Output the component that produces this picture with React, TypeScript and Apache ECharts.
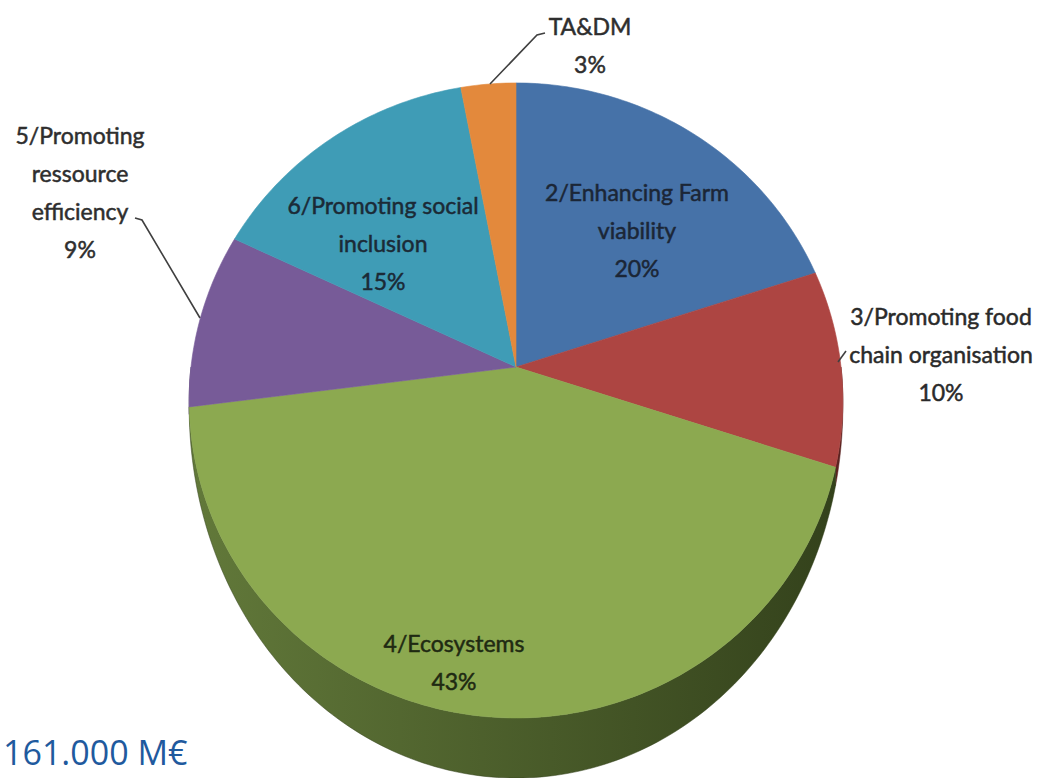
import React, { useEffect, useRef } from "react";
import * as echarts from "echarts";

// ---- data ----
const categories = [
  "2/Enhancing Farm viability",
  "3/Promoting food chain organisation",
  "4/Ecosystems",
  "5/Promoting ressource efficiency",
  "6/Promoting social inclusion",
  "TA&DM",
];
const labelLines = [
  ["2/Enhancing Farm", "viability"],
  ["3/Promoting food", "chain organisation"],
  ["4/Ecosystems"],
  ["5/Promoting", "ressource", "efficiency"],
  ["6/Promoting social", "inclusion"],
  ["TA&DM"],
];
const shares = [20, 10, 43, 9, 15, 3];
const totalText = "161.000 M€";

// ---- styles / layout ----
const topColors = ["#4672a8", "#ad4542", "#8ca950", "#775b98", "#3f9cb6", "#e3893c"];
const sideColors = [
  ["#2e4a70", "#2e4a70"],
  ["#6e2b29", "#5a2220"],
  ["#62793a", "#33411b"],
  ["#4f3c66", "#4f3c66"],
  ["#2a6678", "#2a6678"],
  ["#9a5c27", "#9a5c27"],
];
const labelLayout = [
  { x: 637, y: 230, fill: "#1b2636" },
  { x: 941, y: 354, fill: "#2a2a2a" },
  { x: 454, y: 662, fill: "#1f2a12" },
  { x: 80, y: 192, fill: "#2e2e2e" },
  { x: 383, y: 243, fill: "#1b2a36" },
  { x: 590, y: 45, fill: "#2e2e2e" },
];

const CX = 516;
const CY = 367;
const RX = 325;
const RY = 314;
const K = 0.1055;
const DEPTH = 60;

function proj(theta: number, r = 1): number[] {
  const den = 1 + K * r * Math.cos(theta);
  return [CX + (RX * r * Math.sin(theta)) / den, CY - (RY * r * Math.cos(theta)) / den];
}

function depthAt(theta: number): number {
  const c = -Math.cos(theta);
  return c > 0 ? DEPTH * c : 0;
}

export default function App() {
  const ref = useRef<HTMLDivElement>(null);
  useEffect(() => {
    if (!ref.current) return;
    const chart = echarts.init(ref.current, undefined, { renderer: "svg" });
    const total = shares.reduce((a, b) => a + b, 0);
    const starts: number[] = [];
    let acc = 0;
    shares.forEach((v) => {
      starts.push(acc);
      acc += v;
    });
    const data = shares.map((v, i) => [v, starts[i]]);
    const toAngle = (v: number) => (2 * Math.PI * v) / total;

    const sideSeries = {
      type: "custom",
      coordinateSystem: "none",
      silent: true,
      z: 1,
      data,
      renderItem: (params: any, api: any) => {
        const i = params.dataIndex;
        const a0 = toAngle(api.value(1));
        const a1 = toAngle(api.value(1) + api.value(0));
        const lo = Math.max(a0, Math.PI / 2);
        const hi = Math.min(a1, (3 * Math.PI) / 2);
        if (hi <= lo) return { type: "group", children: [] };
        const n = Math.max(4, Math.ceil(((hi - lo) * 180) / Math.PI));
        const pts: number[][] = [];
        for (let k = 0; k <= n; k++) {
          const t = lo + ((hi - lo) * k) / n;
          pts.push(proj(t));
        }
        for (let k = n; k >= 0; k--) {
          const t = lo + ((hi - lo) * k) / n;
          const p = proj(t);
          pts.push([p[0], p[1] + depthAt(t)]);
        }
        return {
          type: "polygon",
          shape: { points: pts },
          style: {
            fill: new echarts.graphic.LinearGradient(
              190,
              0,
              843,
              0,
              [
                { offset: 0, color: sideColors[i][0] },
                { offset: 1, color: sideColors[i][1] },
              ],
              true
            ),
            stroke: sideColors[i][1],
            lineWidth: 0.5,
          },
        };
      },
    };

    const topSeries = {
      type: "custom",
      coordinateSystem: "none",
      silent: true,
      z: 2,
      data,
      renderItem: (params: any, api: any) => {
        const i = params.dataIndex;
        const a0 = toAngle(api.value(1));
        const a1 = toAngle(api.value(1) + api.value(0));
        const n = Math.max(4, Math.ceil(((a1 - a0) * 180) / Math.PI));
        const pts: number[][] = [[CX, CY]];
        for (let k = 0; k <= n; k++) {
          pts.push(proj(a0 + ((a1 - a0) * k) / n));
        }
        return {
          type: "polygon",
          shape: { points: pts },
          style: { fill: topColors[i], stroke: topColors[i], lineWidth: 0.6 },
        };
      },
    };

    const labelFont = { fontFamily: "Lato", fontSize: 23, lineHeight: 38 };
    const labels = categories.map((c, i) => ({
      type: "text",
      x: labelLayout[i].x,
      y: labelLayout[i].y,
      z: 10,
      style: {
        text: [...labelLines[i], shares[i] + "%"].join("\n"),
        fill: labelLayout[i].fill,
        stroke: labelLayout[i].fill,
        lineWidth: 0.5,
        align: "center",
        verticalAlign: "middle",
        ...labelFont,
      },
    }));

    const leaderStyle = { stroke: "#404040", lineWidth: 1.6, fill: null };
    const option = {
      animation: false,
      backgroundColor: "#ffffff",
      series: [sideSeries, topSeries],
      graphic: [
        ...labels,
        {
          type: "polyline",
          z: 10,
          shape: { points: [[490, 84], [537, 35], [545, 33]] },
          style: leaderStyle,
        },
        {
          type: "polyline",
          z: 10,
          shape: { points: [[135, 218], [142, 220], [200, 318]] },
          style: leaderStyle,
        },
        {
          type: "polyline",
          z: 10,
          shape: { points: [[838, 362], [846, 351]] },
          style: leaderStyle,
        },
        {
          type: "text",
          x: 3,
          y: 752,
          z: 10,
          style: {
            text: totalText,
            fill: "#1f5a9e",
            fontFamily: "Open Sans",
            fontSize: 34,
            lineHeight: 40,
            align: "left",
            verticalAlign: "middle",
          },
        },
      ],
    };
    chart.setOption(option as any);
    return () => chart.dispose();
  }, []);
  return (
    <div
      ref={ref}
      style={{ position: "fixed", left: 0, top: 0, width: 1039, height: 778, background: "#fff" }}
    />
  );
}
